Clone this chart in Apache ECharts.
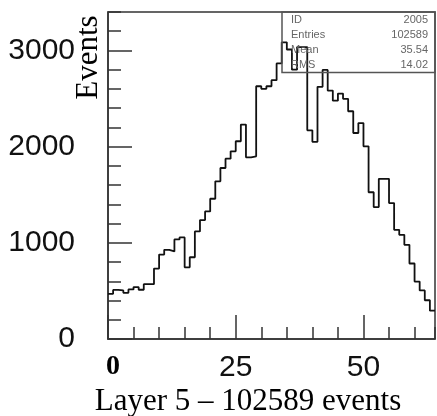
<!DOCTYPE html>
<html>
<head>
<meta charset="utf-8">
<script src="https://cdn.jsdelivr.net/npm/echarts@6/dist/echarts.min.js"></script>
<style>
html,body{margin:0;padding:0;background:#fff;}
#chart{width:437px;height:416px;}
</style>
</head>
<body>
<div id="chart"></div>
<script>
// Bin contents (64 bins, width 1, from 0 to 64)
var binCounts = [
  470, 510, 505, 480, 515, 540, 512, 570, 570, 732,
  878, 927, 910, 1035, 1056, 745, 850, 1118, 1237, 1326,
  1458, 1639, 1778, 1875, 1951, 2056, 2229, 1889, 1899, 2628,
  2601, 2628, 2691, 2865, 3085, 3010, 2800, 3035, 3035, 2170,
  2050, 2622, 2798, 2583, 2478, 2552, 2497, 2368, 2142, 2245,
  2003, 1526, 1372, 1665, 1665, 1413, 1135, 1083, 979, 785,
  597, 505, 403, 295
];
var xMin = 0, xMax = 64;
var yTickLabels = ['0', '1000', '2000', '3000'];
var xTickLabels = ['0', '25', '50'];
var statLabels = ['ID', 'Entries', 'Mean', 'RMS'];
var statValues = ['2005', '102589', '35.54', '14.02'];
var titleText = 'Layer 5 \u2013 102589 events';
var yName = 'Events';

var binWidth = (xMax - xMin) / binCounts.length;
var stepData = [];
for (var i = 0; i < binCounts.length; i++) {
  stepData.push([xMin + i * binWidth, binCounts[i]]);
}
stepData.push([xMax, binCounts[binCounts.length - 1]]);

var chart = echarts.init(document.getElementById('chart'), null, {renderer: 'canvas'});
var frameColor = '#333';
var sans = 'Liberation Sans';
var serif = 'Liberation Serif';

var statGraphics = [{
  type: 'rect',
  shape: {x: 282, y: 12, width: 153, height: 60.5},
  style: {fill: 'none', stroke: '#555', lineWidth: 1.5},
  z: 10
}];
for (var k = 0; k < statLabels.length; k++) {
  statGraphics.push({
    type: 'text', x: 291, y: 20 + k * 15, z: 10,
    style: {text: statLabels[k], font: '11px "' + sans + '"', fill: '#666', textAlign: 'left', textVerticalAlign: 'middle'}
  });
  statGraphics.push({
    type: 'text', x: 428, y: 20 + k * 15, z: 10,
    style: {text: statValues[k], font: '11px "' + sans + '"', fill: '#666', textAlign: 'right', textVerticalAlign: 'middle'}
  });
}
statGraphics.push({
  type: 'text', x: 248, y: 402,
  style: {text: titleText, font: '31px "' + serif + '"', fill: '#000', textAlign: 'center', textVerticalAlign: 'middle'}
});
statGraphics.push({
  type: 'text', x: 88.5, y: 57.5, rotation: Math.PI / 2,
  style: {text: yName, font: '31px "' + serif + '"', fill: '#000', textAlign: 'center', textVerticalAlign: 'middle'}
});

var option = {
  animation: false,
  backgroundColor: '#fff',
  grid: {left: 108, top: 12, right: 2, bottom: 77, show: true, borderColor: frameColor, borderWidth: 1.5, backgroundColor: 'transparent'},
  xAxis: [{
    type: 'value', min: xMin, max: xMax, interval: 25, position: 'bottom',
    axisLine: {show: true, onZero: false, lineStyle: {color: frameColor, width: 1.5}},
    axisTick: {show: true, inside: true, length: 24, lineStyle: {color: frameColor, width: 1.5}},
    splitLine: {show: false},
    axisLabel: {
      show: true, margin: 14, showMaxLabel: false, color: '#111',
      fontFamily: sans, fontSize: 30,
      formatter: function (v) {
        var idx = xTickLabels.indexOf(String(v));
        if (idx < 0) return '';
        return idx === 0 ? '{z|' + xTickLabels[idx] + '}' : xTickLabels[idx];
      },
      rich: {z: {fontFamily: serif, fontWeight: 'bold', fontSize: 28, color: '#000', padding: [0, 0, 0, 10]}}
    }
  }, {
    type: 'value', min: xMin, max: xMax, interval: 5, position: 'bottom',
    axisLine: {show: false, onZero: false},
    axisTick: {show: true, inside: true, length: 12, lineStyle: {color: frameColor, width: 1.5}},
    splitLine: {show: false},
    axisLabel: {show: false}
  }],
  yAxis: [{
    type: 'value', min: 0, max: 3400, interval: 1000, position: 'left',
    axisLine: {show: true, onZero: false, lineStyle: {color: frameColor, width: 1.5}},
    axisTick: {show: true, inside: true, length: 24, lineStyle: {color: frameColor, width: 1.5}},
    splitLine: {show: false},
    axisLabel: {
      show: true, margin: 33, showMaxLabel: false, color: '#111',
      fontFamily: sans, fontSize: 30,
      formatter: function (v) {
        var idx = yTickLabels.indexOf(String(v));
        return idx < 0 ? '' : yTickLabels[idx];
      }
    }
  }, {
    type: 'value', min: 0, max: 3400, interval: 200, position: 'left',
    axisLine: {show: false, onZero: false},
    axisTick: {show: true, inside: true, length: 13, lineStyle: {color: frameColor, width: 1.5}},
    splitLine: {show: false},
    axisLabel: {show: false}
  }],
  series: [{
    type: 'line', step: 'end', xAxisIndex: 0, yAxisIndex: 0,
    data: stepData, symbol: 'none', clip: true,
    lineStyle: {color: '#111', width: 1.8}
  }],
  graphic: statGraphics
};
chart.setOption(option);
</script>
</body>
</html>
